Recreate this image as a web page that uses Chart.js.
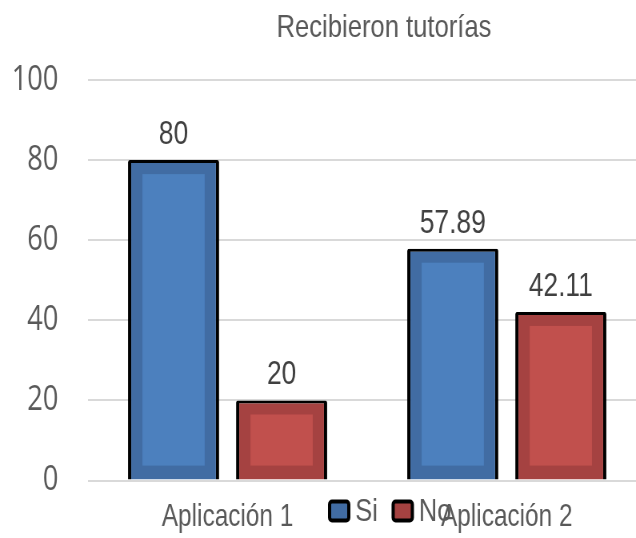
<!DOCTYPE html>
<html>
<head>
<meta charset="utf-8">
<script src="https://cdn.jsdelivr.net/npm/chart.js@4"></script>
<style>
  html, body { margin: 0; padding: 0; background: #fff; overflow: hidden; }
  /* il grafico originale e' schiacciato in orizzontale: disegno largo e comprimo */
  #wrap { width: 810px; height: 538px; transform: scaleX(0.8); transform-origin: 0 0; }
</style>
</head>
<body>
<div id="wrap"><canvas id="graph1" width="810" height="538"></canvas></div>
<script>
// dati
var titolo = "Recibieron tutorías";
var categorie = ["Aplicación 1", "Aplicación 2"];
var serieNomi = ["Si", "No"];
var valoriSi = [80, 57.89];
var valoriNo = [20, 42.11];
var yMin = 0, yMax = 100, yStep = 20;

var coloriBordo = ["#416ca3", "#a54241"];
var coloriInterno = ["#4c80be", "#c1504d"];

var FONT = "'Liberation Sans', Arial, sans-serif";

// riquadro interno piu' chiaro + etichette dei valori
var barDecor = {
	id: "barDecor",
	afterDatasetsDraw: function(chart) {
		var ctx = chart.ctx;
		ctx.save();
		chart.data.datasets.forEach(function(ds, i) {
			var meta = chart.getDatasetMeta(i);
			meta.data.forEach(function(bar, j) {
				var p = bar.getProps(["x", "y", "base", "width"], true);
				var left = p.x - p.width / 2 + 18;
				var right = p.x + p.width / 2 - 18;
				var top = p.y + 14;
				var bottom = p.base - 14;
				if (bottom > top) {
					ctx.fillStyle = coloriInterno[i];
					ctx.fillRect(left, top, right - left, bottom - top);
				}
				ctx.fillStyle = "#404040";
				ctx.font = "33px " + FONT;
				ctx.textAlign = "center";
				ctx.textBaseline = "alphabetic";
				ctx.fillText(String(ds.data[j]), p.x, p.y - 16);
			});
		});
		ctx.restore();
	}
};

// titolo e legenda disegnati a mano (la legenda si sovrappone alle etichette)
var titleLegend = {
	id: "titleLegend",
	afterDraw: function(chart) {
		var ctx = chart.ctx;
		ctx.save();
		ctx.fillStyle = "#595959";
		ctx.font = "32px " + FONT;
		ctx.textAlign = "center";
		ctx.textBaseline = "alphabetic";
		ctx.fillText(titolo, 480, 37);

		// legenda
		ctx.font = "32px " + FONT;
		ctx.textAlign = "left";
		ctx.textBaseline = "middle";
		var x = 410;
		var yc = 511;
		serieNomi.forEach(function(nome, i) {
			ctx.beginPath();
			ctx.roundRect(x + 2, yc - 9.5, 24, 19, 3);
			ctx.fillStyle = coloriBordo[i];
			ctx.fill();
			ctx.lineWidth = 4;
			ctx.strokeStyle = "#000";
			ctx.stroke();
			ctx.fillStyle = "#595959";
			ctx.fillText(nome, x + 34, yc + 1);
			x += 34 + ctx.measureText(nome).width + 17;
		});
		ctx.restore();
	}
};

function drawGraph(graphID) {
	var ctx = document.getElementById(graphID).getContext("2d");
	var datasets = [valoriSi, valoriNo].map(function(vals, i) {
		return {
			label: serieNomi[i],
			data: vals,
			backgroundColor: coloriBordo[i],
			borderColor: "#000",
			borderWidth: { top: 3, left: 4, right: 4, bottom: 0 },
			borderRadius: 2,
			borderSkipped: "start",
			categoryPercentage: 0.774,
			barPercentage: 0.843
		};
	});

	return new Chart(ctx, {
		type: "bar",
		data: { labels: categorie, datasets: datasets },
		options: {
			responsive: false,
			animation: false,
			layout: { padding: { top: 80, left: 18, right: 2, bottom: 1 } },
			plugins: {
				legend: { display: false },
				title: { display: false },
				tooltip: { enabled: false }
			},
			scales: {
				x: {
					grid: { display: false, drawTicks: false },
					border: { display: false },
					ticks: { color: "#595959", font: { family: FONT, size: 30.5 }, padding: 19 },
					afterFit: function(scale) { scale.height = 55; }
				},
				y: {
					min: yMin,
					max: yMax,
					grid: { color: "#d9d9d9", lineWidth: 2, drawTicks: false },
					border: { display: false },
					ticks: {
						stepSize: yStep,
						color: "#595959",
						padding: 37,
						font: { family: "'Open Sans', sans-serif", size: 34 }
					},
					afterFit: function(scale) { scale.width = 92; }
				}
			}
		},
		plugins: [barDecor, titleLegend]
	});
}

drawGraph("graph1");
</script>
</body>
</html>
